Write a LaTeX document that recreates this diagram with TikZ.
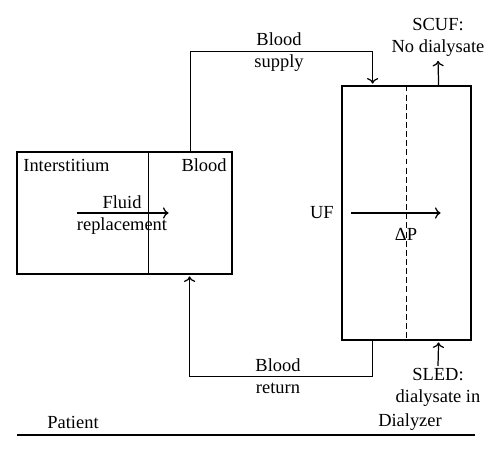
\documentclass[tikz,border=0pt]{standalone}
\usepackage{fontspec}
\setmainfont{Liberation Serif}
\usetikzlibrary{positioning,arrows.meta}

\begin{document}
\begin{tikzpicture}[x=0.02cm,y=-0.02cm,line width=0.7pt,
    txt/.style={font=\fontsize{10.5}{12.5}\selectfont,align=center,inner sep=1pt},
    flow/.style={-{To[length=3.2pt,width=6.4pt]},shorten >=1pt},
    box/.style={draw,rectangle,inner sep=0pt}]
\useasboundingbox (0,0) rectangle (500,453);
% the two compartments
\node [box,minimum width=4.3cm,minimum height=2.44cm] (patient) at (124.5,213) {};
\node [box,minimum width=2.58cm,minimum height=5.08cm] (dialyzer) at (406.5,213) {};
\draw ([xshift=2.64cm]patient.north west) -- ([xshift=2.64cm]patient.south west);
\draw [dash pattern=on 3.4pt off 1.8pt] (dialyzer.north) -- (dialyzer.south);
\node [txt,anchor=west] (inter) at (21,165) {Interstitium};
\node [txt,anchor=east] (blood) at (229,165) {Blood};
\draw [flow] ([xshift=1.22cm]patient.west) -- ([xshift=3.08cm]patient.west);
\node [txt] (fluid) at (122,215) {Fluid\\replacement};
\draw [flow] ([xshift=0.2cm]dialyzer.west) -- ([xshift=2.02cm]dialyzer.west);
\node [txt,left=3pt of dialyzer.west] (uf) {UF};
\node [txt] (dp) at (406,234) {ΔP};
% blood circuit
\coordinate (supplyout) at ([xshift=-0.84cm]patient.north east);
\coordinate (supplyin) at ([xshift=-1.98cm]dialyzer.north east);
\coordinate (returnout) at ([xshift=-1.98cm]dialyzer.south east);
\coordinate (returnin) at ([xshift=-0.86cm]patient.south east);
\draw [flow] (supplyout) -- ++(0,-100) -| (supplyin);
\draw [flow] (returnout) -- ++(0,36) -| (returnin);
\node [txt] (supply) at (279,52) {Blood\\supply};
\node [txt] (return) at (278,376) {Blood\\return};
% dialysate
\node [txt,anchor=south] (scuf) at (438,59) {SCUF:\\No dialysate};
\node [txt,anchor=north] (sled) at (438,366) {SLED:\\dialysate in};
\draw [flow] ([xshift=-0.66cm]dialyzer.north east) -- (scuf.south);
\draw [flow] (sled.north) -- ([xshift=-0.66cm]dialyzer.south east);
% sides
\node [txt] (pat) at (73,422) {Patient};
\node [txt] (dia) at (410,422) {Dialyzer};
\coordinate (baseL) at (17,435);
\coordinate (baseR) at (475,435);
\draw (baseL) -- (baseR);
\end{tikzpicture}
\end{document}
